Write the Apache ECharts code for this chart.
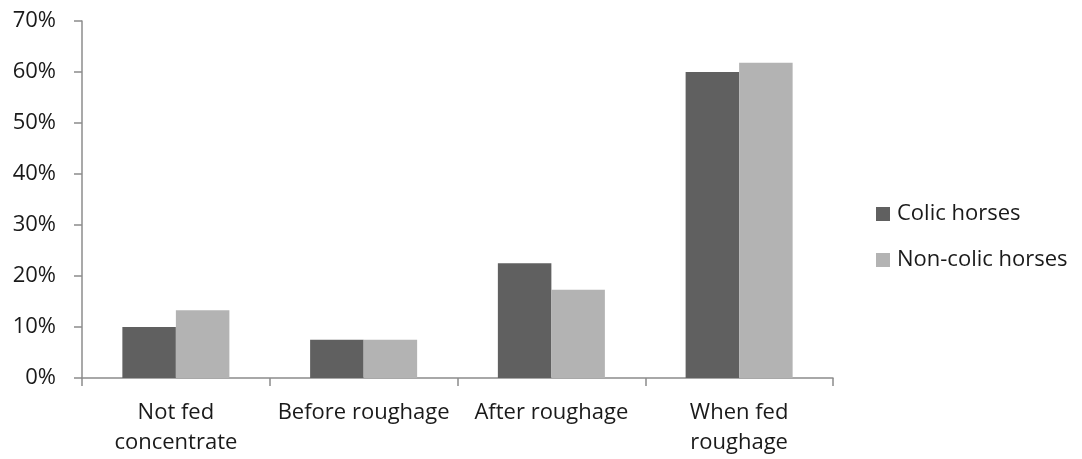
<!DOCTYPE html>
<html>
<head>
<meta charset="utf-8">
<script src="https://cdn.jsdelivr.net/npm/echarts@6/dist/echarts.min.js"></script>
<style>html,body{margin:0;padding:0;background:#fff;}#chart{width:1082px;height:459px;}</style>
</head>
<body>
<div id="chart"></div>
<script>
const categories = ["Not fed\nconcentrate", "Before roughage", "After roughage", "When fed\nroughage"];
const colicHorses = [10.0, 7.5, 22.5, 60.0];
const nonColicHorses = [13.3, 7.5, 17.3, 61.8];
const seriesNames = ["Colic horses", "Non-colic horses"];

const FONT = "'Open Sans', sans-serif";
const chart = echarts.init(document.getElementById('chart'), null, {renderer: 'canvas'});
chart.setOption({
  animation: false,
  backgroundColor: '#ffffff',
  textStyle: {fontFamily: FONT},
  grid: {left: 82, right: 249, top: 21, bottom: 81, containLabel: false},
  legend: {
    orient: 'vertical',
    left: 876, top: 202, padding: 0,
    itemWidth: 14, itemHeight: 14, itemGap: 22,
    icon: 'rect',
    textStyle: {fontFamily: FONT, fontSize: 22, lineHeight: 24, color: '#1a1a1a', padding: [0,0,0,2]},
    data: seriesNames
  },
  xAxis: {
    type: 'category',
    data: categories,
    axisLine: {lineStyle: {color: '#8c8c8c', width: 1.5}},
    axisTick: {show: true, length: 8, alignWithLabel: false, lineStyle: {color: '#8c8c8c', width: 1.5}},
    axisLabel: {fontFamily: FONT, fontSize: 22, color: '#1a1a1a', margin: 20, lineHeight: 30, interval: 0}
  },
  yAxis: {
    type: 'value',
    min: 0, max: 70, interval: 10,
    splitLine: {show: false},
    axisLine: {show: true, lineStyle: {color: '#8c8c8c', width: 1.5}},
    axisTick: {show: true, length: 8, lineStyle: {color: '#8c8c8c', width: 1.5}},
    axisLabel: {fontFamily: FONT, fontSize: 22, color: '#1a1a1a', margin: 26, formatter: '{value}%'}
  },
  series: [
    {name: seriesNames[0], type: 'bar', data: colicHorses, barGap: '0%', barCategoryGap: '43%', itemStyle: {color: '#606060'}},
    {name: seriesNames[1], type: 'bar', data: nonColicHorses, barGap: '0%', barCategoryGap: '43%', itemStyle: {color: '#b3b3b3'}}
  ]
});
</script>
</body>
</html>
